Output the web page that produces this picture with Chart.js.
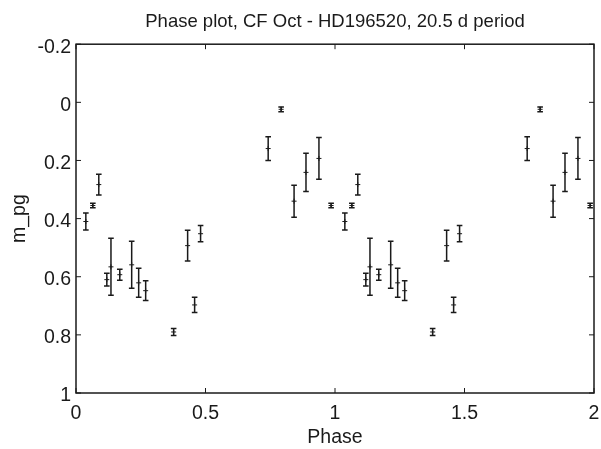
<!DOCTYPE html>
<html>
<head>
<meta charset="utf-8">
<title>Phase plot, CF Oct - HD196520</title>
<script src="https://cdn.jsdelivr.net/npm/chart.js@4.4.1/dist/chart.umd.min.js"></script>
<style>
html, body { margin: 0; padding: 0; background: #fff; }
</style>
</head>
<body>
<canvas id="phase_chart" width="601" height="449"></canvas>
<script>
"use strict";

// one cycle of the light curve (phase 0..1)
const phase = [0.038, 0.065, 0.088, 0.119, 0.135, 0.169, 0.215, 0.242, 0.269, 0.377,
	0.431, 0.458, 0.481, 0.742, 0.792, 0.842, 0.888, 0.938, 0.985];
const mag = [0.410, 0.355, 0.283, 0.610, 0.566, 0.593, 0.559, 0.621, 0.648, 0.790,
	0.493, 0.697, 0.452, 0.159, 0.024, 0.340, 0.241, 0.193, 0.355];
const magErr = [0.029, 0.008, 0.036, 0.022, 0.098, 0.019, 0.081, 0.050, 0.034, 0.012,
	0.053, 0.026, 0.028, 0.041, 0.008, 0.055, 0.066, 0.072, 0.008];
// the plot shows the cycle twice
const cycles = [0, 1];

const xTicks = [0, 0.5, 1, 1.5, 2];
const yTicks = [-0.2, 0, 0.2, 0.4, 0.6, 0.8, 1];

const INK = '#1a1a1a';
const FONT = "'Liberation Sans', Arial, sans-serif";
const TICK = 5;

const points = [];
cycles.forEach(function (c) {
	phase.forEach(function (p, i) {
		points.push({ x: p + c, y: mag[i], e: magErr[i] });
	});
});

const errorBars = {
	id: 'errorBars',
	afterDatasetsDraw(chart) {
		const ctx = chart.ctx;
		const ys = chart.scales.y;
		const xs = chart.scales.x;
		ctx.save();
		ctx.strokeStyle = INK;
		ctx.lineWidth = 1.5;
		ctx.beginPath();
		chart.data.datasets[0].data.forEach(function (d) {
			const px = xs.getPixelForValue(d.x);
			const lo = ys.getPixelForValue(d.y - d.e);
			const hi = ys.getPixelForValue(d.y + d.e);
			ctx.moveTo(px, lo); ctx.lineTo(px, hi);
			ctx.moveTo(px - 2.8, lo); ctx.lineTo(px + 2.8, lo);
			ctx.moveTo(px - 2.8, hi); ctx.lineTo(px + 2.8, hi);
		});
		ctx.stroke();
		ctx.restore();
	}
};

const frame = {
	id: 'frame',
	afterDraw(chart) {
		const ctx = chart.ctx;
		const a = chart.chartArea;
		const xs = chart.scales.x;
		const ys = chart.scales.y;
		ctx.save();
		ctx.strokeStyle = INK;
		ctx.lineWidth = 1.5;
		ctx.strokeRect(a.left, a.top, a.right - a.left, a.bottom - a.top);
		ctx.lineWidth = 1;
		ctx.beginPath();
		xTicks.forEach(function (v) {
			const px = xs.getPixelForValue(v);
			ctx.moveTo(px, a.bottom); ctx.lineTo(px, a.bottom - TICK);
			ctx.moveTo(px, a.top); ctx.lineTo(px, a.top + TICK);
		});
		yTicks.forEach(function (v) {
			const py = ys.getPixelForValue(v);
			ctx.moveTo(a.left, py); ctx.lineTo(a.left + TICK, py);
			ctx.moveTo(a.right, py); ctx.lineTo(a.right - TICK, py);
		});
		ctx.stroke();
		ctx.restore();
	}
};

function fmt(v) {
	return String(Math.round(v * 10) / 10);
}

new Chart(document.getElementById('phase_chart'), {
	type: 'scatter',
	data: {
		datasets: [{
			data: points,
			pointStyle: 'cross',
			pointRadius: 2.5,
			borderColor: INK,
			borderWidth: 1,
			backgroundColor: INK
		}]
	},
	options: {
		responsive: false,
		animation: false,
		layout: { padding: { left: 0, right: 7, top: 0, bottom: 0 } },
		plugins: {
			legend: { display: false },
			tooltip: { enabled: false },
			title: {
				display: true,
				fullSize: false,
				text: 'Phase plot, CF Oct - HD196520, 20.5 d period',
				color: INK,
				font: { family: FONT, size: 18.5, weight: 'normal' },
				padding: { top: 11, bottom: 11 }
			}
		},
		scales: {
			x: {
				type: 'linear',
				min: 0, max: 2,
				afterBuildTicks: function (s) { s.ticks = xTicks.map(function (v) { return { value: v }; }); },
				afterFit: function (s) { s.height = 56; s.paddingLeft = 0; s.paddingRight = 0; },
				grid: { display: false, drawTicks: false },
				border: { display: false },
				ticks: {
					color: INK, padding: 9,
					font: { family: FONT, size: 19.5 },
					callback: fmt
				},
				title: {
					display: true, text: 'Phase', color: INK,
					font: { family: FONT, size: 19.5 },
					padding: { top: 0, bottom: 0 }
				}
			},
			y: {
				type: 'linear',
				reverse: true,
				min: -0.2, max: 1,
				afterBuildTicks: function (s) { s.ticks = yTicks.map(function (v) { return { value: v }; }); },
				afterFit: function (s) { s.width = 76; },
				grid: { display: false, drawTicks: false },
				border: { display: false },
				ticks: {
					color: INK, padding: 5, labelOffset: 3,
					font: { family: FONT, size: 19.5 },
					callback: fmt
				},
				title: {
					display: true, text: 'm_pg', color: INK,
					font: { family: FONT, size: 19.5 },
					padding: { top: 8, bottom: 0 }
				}
			}
		}
	},
	plugins: [errorBars, frame]
});
</script>
</body>
</html>
